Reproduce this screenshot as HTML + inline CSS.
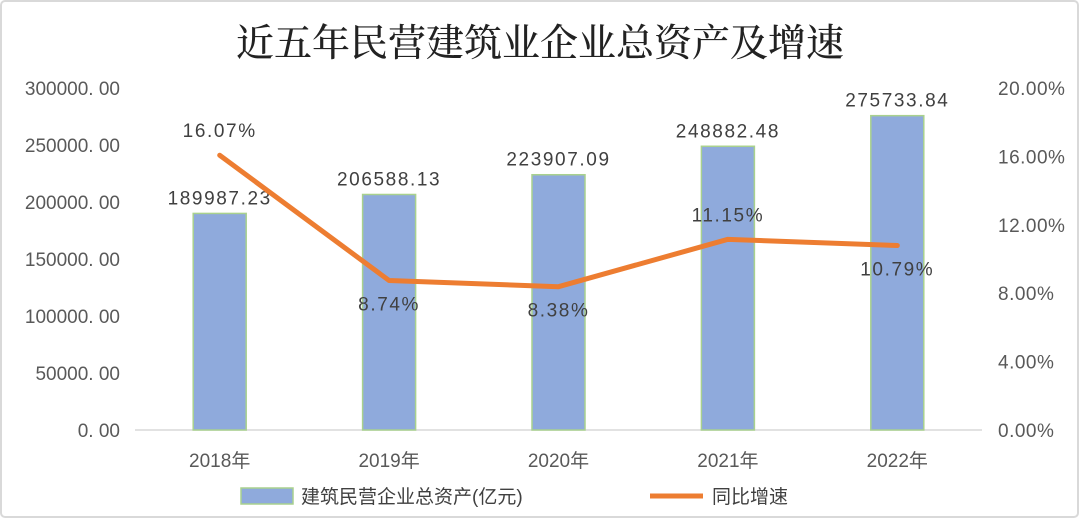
<!DOCTYPE html>
<html><head><meta charset="utf-8"><style>
body{margin:0;background:#fff}
svg text{font-family:"Liberation Sans","Noto Sans CJK SC",sans-serif}
</style></head><body>
<svg width="1080" height="521" viewBox="0 0 1080 521">
<rect x="1" y="1" width="1077" height="516" rx="4" fill="#fff" stroke="#d9d9d9" stroke-width="2"/>
<text x="540" y="56" text-anchor="middle" font-size="38" font-weight="500" fill="#222" style="font-family:'Noto Serif CJK SC',serif">近五年民营建筑业企业总资产及增速</text>
<g id="axes"></g><g id="bars"></g><g id="line"></g>
<g>
<rect x="241" y="488" width="52" height="16" fill="#8faadc" stroke="#a9d18e" stroke-width="1.5"/>
<text x="301" y="503" font-size="19" fill="#404040">建筑民营企业总资产(亿元)</text>
<line x1="650" y1="496" x2="703" y2="496" stroke="#ed7d31" stroke-width="5"/>
<text x="712" y="503" font-size="19" fill="#404040">同比增速</text>
</g>
</svg>
<script>
const categories=["2018年","2019年","2020年","2021年","2022年"];
const assets=[189987.23,206588.13,223907.09,248882.48,275733.84];
const assetLabels=["189987.23","206588.13","223907.09","248882.48","275733.84"];
const growth=[16.07,8.74,8.38,11.15,10.79];
const growthLabels=["16.07%","8.74%","8.38%","11.15%","10.79%"];
const leftTicks=[0,50000,100000,150000,200000,250000,300000];
const rightTicks=[0,4,8,12,16,20];
const NS="http://www.w3.org/2000/svg";
const x0=135,x1=982,y0=430,y1=88;
const bw=(x1-x0)/categories.length;
const xc=i=>x0+bw*(i+0.5);
const yL=v=>y0-(v/300000)*(y0-y1);
const yR=v=>y0-(v/20)*(y0-y1);
function mk(tag,attrs,parent,txt){const e=document.createElementNS(NS,tag);for(const k in attrs)e.setAttribute(k,attrs[k]);if(txt!==undefined)e.textContent=txt;document.getElementById(parent).appendChild(e);return e;}
leftTicks.forEach(t=>{
 const e=mk("text",{x:120,y:yL(t)+7,"text-anchor":"end","font-size":"19",fill:"#595959"},"axes",t.toFixed(2).replace(".",". "));
 
 
});
rightTicks.forEach(t=>{
 const e=mk("text",{x:998,y:yR(t)+7,"font-size":"19",fill:"#595959","letter-spacing":"0.5"},"axes",t.toFixed(2)+"%");
 
 
});
const ax=mk("line",{x1:x0,y1:y0,x2:x1,y2:y0,stroke:"#d9d9d9","stroke-width":"1.5"},"axes");


categories.forEach((c,i)=>{
 const e=mk("text",{x:xc(i),y:467,"text-anchor":"middle","font-size":"19",fill:"#595959"},"axes",c);
 
 
 const b=mk("rect",{x:xc(i)-26.5,y:yL(assets[i]),width:53,height:y0-yL(assets[i]),fill:"#8faadc",stroke:"#a9d18e","stroke-width":"1.5"},"bars");
 
 
 const l=mk("text",{x:xc(i),y:yL(assets[i])-9,"text-anchor":"middle","font-size":"19",fill:"#404040","letter-spacing":"1.6"},"bars",assetLabels[i]);
 
 
});
const pts=growth.map((g,i)=>xc(i)+","+yR(g)).join(" ");
const pl=mk("polyline",{points:pts,fill:"none",stroke:"#ed7d31","stroke-width":"5","stroke-linejoin":"round","stroke-linecap":"round"},"line");


growth.forEach((g,i)=>{
 const above=(i===0||i===3);
 const l=mk("text",{x:xc(i),y:above?yR(g)-18:yR(g)+30,"text-anchor":"middle","font-size":"19",fill:"#404040","letter-spacing":"1.6"},"line",growthLabels[i]);
 
 
});
</script>
</body></html>
